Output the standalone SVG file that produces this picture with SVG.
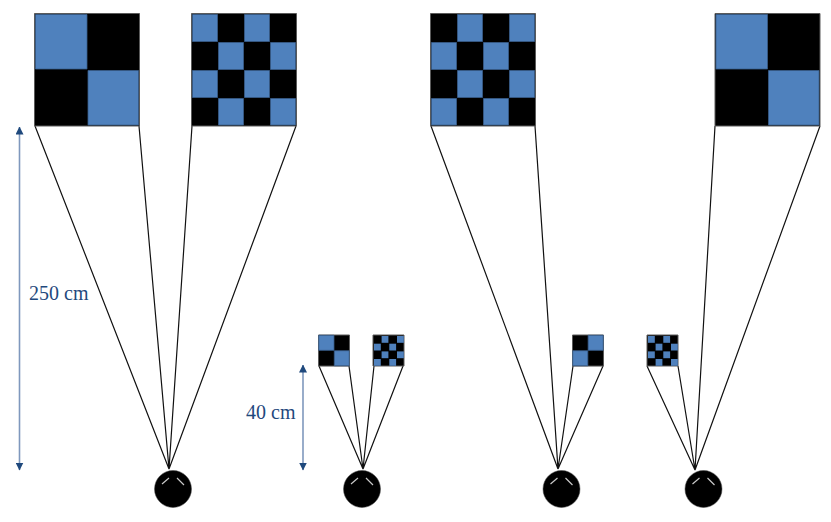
<svg xmlns="http://www.w3.org/2000/svg" xmlns:xlink="http://www.w3.org/1999/xlink" width="831" height="522" viewBox="0 0 831 522">
<style>
.frame{fill:#000;stroke:#5a5a5a;stroke-width:1;vector-effect:non-scaling-stroke}
.blue{fill:#4f81bd;stroke:#385d8a;stroke-width:.8;vector-effect:non-scaling-stroke}
.tiny{fill:#4f81bd}
.ray{stroke:#111;stroke-width:1.2;fill:none}
.dim{stroke:#7f98bd;stroke-width:1.6;fill:none;marker-start:url(#tip);marker-end:url(#tip)}
.head{fill:#000;stroke:#444;stroke-width:.5}
.eye{stroke:#c8c8c8;stroke-width:1.2;fill:none}
.label{font-family:"Liberation Serif","Times New Roman",serif;font-size:20px;fill:#1f497d}
</style>
<defs>
<marker id="tip" viewBox="0 0 8 8" refX="7.5" refY="4" markerWidth="8" markerHeight="8" markerUnits="userSpaceOnUse" orient="auto-start-reverse"><path d="M0 0L8 4L0 8Z" fill="#1f497d"/></marker>
<g id="a2"><rect class="frame" width="105" height="112.5"/><rect class="blue" x="1" y="1" width="51.5" height="54.5"/><rect class="blue" x="53.5" y="57" width="50.5" height="54.5"/></g>
<g id="b2"><rect class="frame" width="105" height="112.5"/><rect class="blue" x="53" y="1" width="51" height="54.5"/><rect class="blue" x="1" y="57" width="51" height="54.5"/></g>
<g id="a4"><rect class="frame" width="105" height="112.5"/><rect class="blue" x="1" y="1" width="25" height="27"/><rect class="blue" x="53" y="1" width="25" height="27"/><rect class="blue" x="27" y="29" width="25" height="27"/><rect class="blue" x="79" y="29" width="25" height="27"/><rect class="blue" x="1" y="57" width="25" height="27"/><rect class="blue" x="53" y="57" width="25" height="27"/><rect class="blue" x="27" y="85" width="25" height="26.5"/><rect class="blue" x="79" y="85" width="25" height="26.5"/></g>
<g id="b4"><rect class="frame" width="105" height="112.5"/><rect class="blue" x="27" y="1" width="25" height="27"/><rect class="blue" x="79" y="1" width="25" height="27"/><rect class="blue" x="1" y="29" width="25" height="27"/><rect class="blue" x="53" y="29" width="25" height="27"/><rect class="blue" x="27" y="57" width="25" height="27"/><rect class="blue" x="79" y="57" width="25" height="27"/><rect class="blue" x="1" y="85" width="25" height="26.5"/><rect class="blue" x="53" y="85" width="25" height="26.5"/></g>
<g id="sa"><rect class="frame" width="31" height="31"/><rect class="tiny" x="1" y="1" width="6.800" height="6.800"/><rect class="tiny" x="16.300" y="1" width="6.800" height="6.800"/><rect class="tiny" x="8.600" y="8.700" width="6.800" height="6.800"/><rect class="tiny" x="24" y="8.700" width="6.800" height="6.800"/><rect class="tiny" x="1" y="16.400" width="6.800" height="6.800"/><rect class="tiny" x="16.300" y="16.400" width="6.800" height="6.800"/><rect class="tiny" x="8.600" y="24" width="6.800" height="6.800"/><rect class="tiny" x="24" y="24" width="6.800" height="6.800"/></g>
<g id="sb"><rect class="frame" width="31" height="31"/><rect class="tiny" x="8.600" y="1" width="6.800" height="6.800"/><rect class="tiny" x="24" y="1" width="6.800" height="6.800"/><rect class="tiny" x="1" y="8.700" width="6.800" height="6.800"/><rect class="tiny" x="16.300" y="8.700" width="6.800" height="6.800"/><rect class="tiny" x="8.600" y="16.400" width="6.800" height="6.800"/><rect class="tiny" x="24" y="16.400" width="6.800" height="6.800"/><rect class="tiny" x="1" y="24" width="6.800" height="6.800"/><rect class="tiny" x="16.300" y="24" width="6.800" height="6.800"/></g>
<g id="person"><circle class="head" r="18.5"/><path class="eye" d="M-11-5L-4-11M4-11L11-4"/></g>
</defs>
<g id="connectors">
<path class="ray" d="M35 126L169 469M139 126L169 469M192 126L169 469M296 126L169 469"/>
<path class="ray" d="M319 366L363 469M349 366L363 469M374 366L363 469M403 366L363 469"/>
<path class="ray" d="M431 126L558 469M535 126L558 469M573 366L558 469M603 366L558 469"/>
<path class="ray" d="M715 126L695 470M820 126L695 470M647 366L695 470M678 366L695 470"/>
<path class="dim" d="M19.5 127V470"/>
<path class="dim" d="M303 365V470"/>
</g>
<g id="screen-1"><use xlink:href="#a2" href="#a2" transform="translate(34.5 13.5)"/></g>
<g id="screen-2"><use xlink:href="#a4" href="#a4" transform="translate(191.5 13.5)"/></g>
<g id="screen-3"><use xlink:href="#a2" href="#a2" transform="translate(318.5 335) scale(.295 .276)"/></g>
<g id="screen-4"><use xlink:href="#sb" href="#sb" transform="translate(373 335)"/></g>
<g id="screen-5"><use xlink:href="#b4" href="#b4" transform="translate(430.5 13.5)"/></g>
<g id="screen-6"><use xlink:href="#b2" href="#b2" transform="translate(572.5 335) scale(.295 .276)"/></g>
<g id="screen-7"><use xlink:href="#sa" href="#sa" transform="translate(647 335)"/></g>
<g id="screen-8"><use xlink:href="#a2" href="#a2" transform="translate(715 13.5)"/></g>
<g id="person-1"><use xlink:href="#person" href="#person" transform="translate(173 489)"/></g>
<g id="person-2"><use xlink:href="#person" href="#person" transform="translate(362 489)"/></g>
<g id="person-3"><use xlink:href="#person" href="#person" transform="translate(561.5 489)"/></g>
<g id="person-4"><use xlink:href="#person" href="#person" transform="translate(703.5 489)"/></g>
<g id="label-250"><text class="label" x="29" y="300">250 cm</text></g>
<g id="label-40"><text class="label" x="246" y="419">40 cm</text></g>
</svg>
